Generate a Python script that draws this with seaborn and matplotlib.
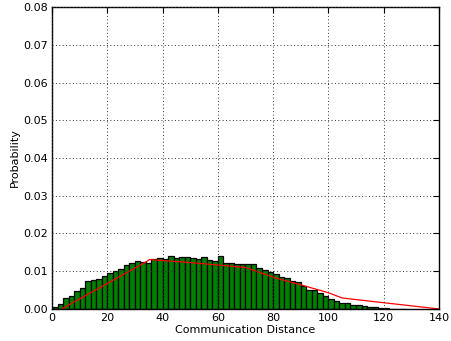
import numpy as np
import pandas as pd
import matplotlib
matplotlib.use("Agg")
import matplotlib.pyplot as plt
import seaborn as sns

# Histogram of communication distances (bin width 2, left edges from 0)
bin_left = list(range(0, 128, 2))
probability = [
    0.0006, 0.0014, 0.0030, 0.0033, 0.0047, 0.0055, 0.0074, 0.0076,
    0.0080, 0.0087, 0.0095, 0.0100, 0.0106, 0.0117, 0.0121, 0.0127,
    0.0125, 0.0123, 0.0133, 0.0134, 0.0133, 0.0141, 0.0136, 0.0138,
    0.0137, 0.0134, 0.0132, 0.0137, 0.0130, 0.0128, 0.0141, 0.0122,
    0.0122, 0.0120, 0.0118, 0.0119, 0.0119, 0.0108, 0.0104, 0.0097,
    0.0092, 0.0086, 0.0081, 0.0075, 0.0071, 0.0061, 0.0050, 0.0050,
    0.0042, 0.0033, 0.0026, 0.0021, 0.0017, 0.0015, 0.0011, 0.0010,
    0.0008, 0.0005, 0.0005, 0.0003, 0.0002, 0.0001, 0.00005, 0.00003,
]
bin_width = 2

# Fitted distribution curve
fit_x = [3.5, 34.3, 35.3, 50, 70, 81, 90, 100, 105, 140]
fit_y = [0.0, 0.0126, 0.0131, 0.0123, 0.0110, 0.0082, 0.0064, 0.0043, 0.0029, 0.0]

sns.set_style("white")
plt.rcParams["font.family"] = ["DejaVu Sans"]
plt.rcParams["font.size"] = 8
for key in ("text.color", "axes.labelcolor", "xtick.color", "ytick.color"):
    plt.rcParams[key] = "black"

fig = plt.figure(figsize=(4.52, 3.41), dpi=100)
ax = fig.add_axes([0.115, 0.094, 0.856, 0.885])

hist_df = pd.DataFrame({
    "center": np.array(bin_left) + bin_width / 2,
    "prob": probability,
})
edges = list(range(0, 128 + bin_width, bin_width))
sns.histplot(data=hist_df, x="center", weights="prob", bins=edges,
             color="#008000", edgecolor="black", linewidth=0.9, alpha=1.0, ax=ax)

fit_df = pd.DataFrame({"x": fit_x, "y": fit_y})
sns.lineplot(data=fit_df, x="x", y="y", color="red", linewidth=0.9, ax=ax)

ax.set_xlim(0, 140)
ax.set_ylim(0, 0.08)
ax.set_xticks(range(0, 141, 20))
ax.set_yticks(np.arange(0, 0.081, 0.01))
ax.set_yticklabels([f"{v:.2f}" for v in np.arange(0, 0.081, 0.01)])
ax.set_xlabel("Communication Distance", fontsize=8, labelpad=1)
ax.set_ylabel("Probability", fontsize=8, labelpad=2)
ax.grid(True, linestyle=(0, (1, 2.5)), color="#333333", linewidth=0.7)
ax.set_axisbelow(False)
for sp in ax.spines.values():
    sp.set_color("black")
    sp.set_linewidth(1.0)
ax.tick_params(direction="in", top=True, right=True, length=4, width=0.8,
               labelsize=8, pad=3)

fig.savefig("out.png", dpi=100)
